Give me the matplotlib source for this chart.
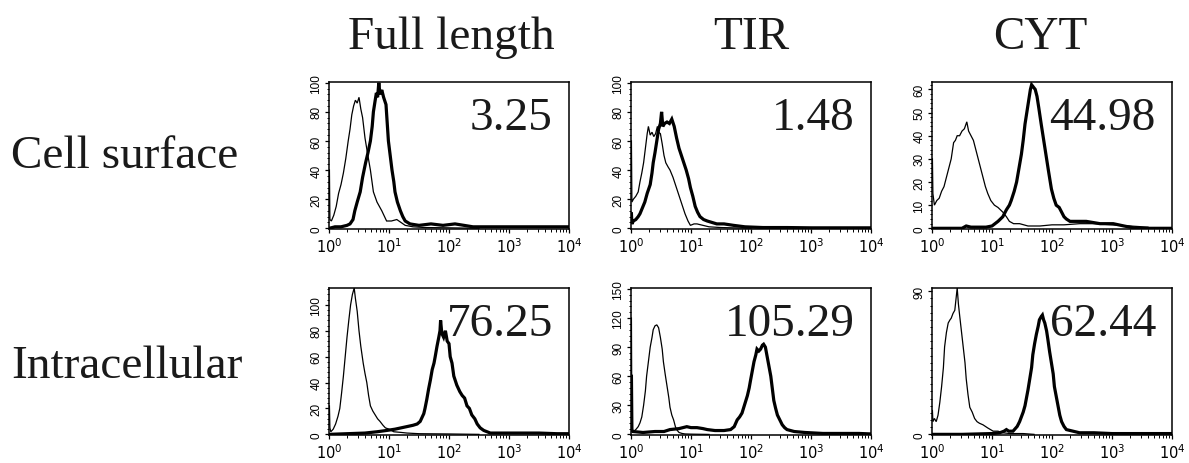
import numpy as np
import matplotlib
matplotlib.use("Agg")
import matplotlib.pyplot as plt
from matplotlib.ticker import FixedLocator, NullFormatter, LogLocator

plt.rcParams['mathtext.fontset'] = 'custom'
plt.rcParams['mathtext.rm'] = 'Liberation Sans'
plt.rcParams['mathtext.it'] = 'Liberation Sans:italic'
plt.rcParams['mathtext.bf'] = 'Liberation Sans:bold'

# ---------------- data ----------------
col_titles = ["Full length", "TIR", "CYT"]
row_labels = ["Cell surface", "Intracellular"]
panel_values = ["3.25", "1.48", "44.98", "76.25", "105.29", "62.44"]
x_tick_exp = [0, 1, 2, 3, 4]

# Full length / cell surface
fl_surf_ctrl_logx = [0.007, 0.015, 0.04, 0.08, 0.12, 0.16, 0.20, 0.24, 0.28, 0.32, 0.35, 0.38, 0.41, 0.44, 0.47, 0.50,
                     0.53, 0.56, 0.60, 0.64, 0.69, 0.74, 0.80, 0.88, 0.96, 1.04, 1.13, 1.20, 1.27, 1.4, 1.6, 2.0, 2.5]
fl_surf_ctrl_y = [40, 6, 5, 9, 15, 24, 30, 38, 48, 60, 68, 78, 84, 88, 86, 90,
                  82, 76, 62, 52, 40, 25, 18, 12, 5, 5, 6, 4, 2, 1, 0.5, 0.3, 0]
fl_surf_stain_logx = [0.007, 0.1, 0.2, 0.3, 0.35, 0.40, 0.43, 0.47, 0.52, 0.56, 0.61, 0.65, 0.69, 0.72, 0.74, 0.77,
                      0.79, 0.81, 0.83, 0.85, 0.88, 0.91, 0.95, 0.99, 1.02, 1.05, 1.08, 1.10, 1.14, 1.19, 1.23,
                      1.27, 1.35, 1.5, 1.7, 1.9, 2.1, 2.25, 2.4, 2.7, 3.0, 3.3, 3.6, 4.0]
fl_surf_stain_y = [0, 1, 1, 2, 3, 6, 12, 18, 25, 35, 45, 52, 60, 70, 80, 88,
                   93, 90, 100, 92, 95, 90, 85, 60, 50, 40, 32, 25, 18, 12, 8,
                   5, 3, 2, 3, 2, 3, 2, 1, 1, 1, 1, 1, 1]

# TIR / cell surface
tir_surf_ctrl_logx = [0.007, 0.015, 0.04, 0.08, 0.12, 0.15, 0.18, 0.21, 0.24, 0.27, 0.29, 0.32, 0.35, 0.38, 0.41, 0.44,
                      0.46, 0.49, 0.52, 0.55, 0.58, 0.62, 0.65, 0.70, 0.74, 0.78, 0.82, 0.86, 0.90, 0.95, 0.99,
                      1.05, 1.10, 1.2, 1.3, 1.5, 2.0]
tir_surf_ctrl_y = [60, 18, 20, 22, 25, 32, 38, 45, 55, 65, 70, 64, 66, 63, 65, 70,
                   66, 65, 58, 50, 45, 42, 40, 35, 30, 25, 20, 15, 10, 5, 2,
                   3, 3, 2, 1, 0.5, 0]
tir_surf_stain_logx = [0.007, 0.015, 0.04, 0.08, 0.12, 0.15, 0.19, 0.23, 0.27, 0.32, 0.35, 0.37, 0.40, 0.43, 0.46, 0.49,
                       0.51, 0.53, 0.56, 0.60, 0.64, 0.68, 0.72, 0.76, 0.80, 0.84, 0.88, 0.92, 0.96, 0.99, 1.03,
                       1.07, 1.11, 1.15, 1.21, 1.27, 1.35, 1.43, 1.55, 1.71, 1.9, 2.2, 2.6, 3.0, 3.5, 4.0]
tir_surf_stain_y = [10, 3, 5, 6, 8, 10, 14, 18, 24, 30, 38, 45, 52, 60, 68, 72,
                    80, 70, 72, 73, 72, 75, 70, 62, 55, 50, 45, 40, 34, 28, 22,
                    15, 11, 8, 6, 5, 4, 3, 3, 2, 1, 0.5, 0.5, 0.3, 0.3, 0.3]

# CYT / cell surface
cyt_surf_ctrl_logx = [0.007, 0.015, 0.04, 0.08, 0.12, 0.16, 0.20, 0.24, 0.28, 0.32, 0.36, 0.39, 0.42, 0.46, 0.50, 0.54,
                      0.58, 0.61, 0.65, 0.69, 0.73, 0.77, 0.81, 0.85, 0.89, 0.93, 0.98, 1.04, 1.10, 1.18, 1.24,
                      1.29, 1.36, 1.46, 1.6, 1.8, 2.0, 2.2, 2.46, 2.7, 3.0, 3.3, 3.6]
cyt_surf_ctrl_y = [30, 15, 10, 12, 13, 16, 18, 22, 26, 30, 37, 38, 40, 40, 42, 43,
                   46, 42, 40, 38, 34, 30, 26, 22, 18, 15, 12, 10, 9, 7, 5,
                   3, 2, 2, 1, 1, 1.5, 1.5, 2, 2, 1.5, 1, 0.5]
cyt_surf_stain_logx = [0.007, 0.5, 0.57, 0.65, 0.9, 1.0, 1.1, 1.18, 1.24, 1.29, 1.32, 1.37, 1.41, 1.45, 1.49, 1.52,
                       1.55, 1.58, 1.61, 1.64, 1.66, 1.69, 1.72, 1.75, 1.78, 1.82, 1.85, 1.88, 1.91, 1.94, 1.99,
                       2.03, 2.07, 2.12, 2.16, 2.2, 2.24, 2.3, 2.35, 2.45, 2.57, 2.8, 3.02, 3.2, 3.4, 4.0]
cyt_surf_stain_y = [0, 0, 1, 0.5, 0.5, 1, 3, 5, 8, 10, 12, 16, 20, 26, 32, 38,
                    45, 50, 55, 60, 62, 61, 60, 57, 52, 45, 40, 35, 30, 25, 17,
                    13, 10, 9, 7, 5, 4, 3, 3, 3, 3, 2, 2, 1, 0, 0]

# Full length / intracellular
fl_intra_ctrl_logx = [0.007, 0.015, 0.03, 0.07, 0.11, 0.15, 0.18, 0.21, 0.24, 0.27, 0.30, 0.33, 0.36, 0.39, 0.42, 0.44,
                      0.47, 0.50, 0.53, 0.57, 0.60, 0.63, 0.66, 0.69, 0.73, 0.77, 0.81, 0.85, 0.90, 0.94, 1.0,
                      1.08, 1.2, 1.3, 1.5, 2.0, 2.5]
fl_intra_ctrl_y = [22, 5, 2, 4, 8, 14, 20, 32, 45, 60, 75, 88, 100, 108, 113, 105,
                   95, 80, 68, 55, 47, 40, 30, 22, 18, 15, 12, 10, 7, 5, 4,
                   2, 1.5, 1, 0.5, 0.3, 0]
fl_intra_stain_logx = [0.007, 0.3, 0.6, 0.8, 0.96, 1.1, 1.2, 1.3, 1.4, 1.47, 1.52, 1.55, 1.58, 1.6, 1.63, 1.66,
                       1.69, 1.72, 1.75, 1.77, 1.80, 1.83, 1.85, 1.86, 1.88, 1.91, 1.94, 1.97, 2.0, 2.02, 2.05,
                       2.08, 2.13, 2.18, 2.22, 2.26, 2.3, 2.34, 2.38, 2.43, 2.47, 2.52, 2.58, 2.69, 2.9, 3.2,
                       3.5, 3.8, 4.0]
fl_intra_stain_y = [0, 0.5, 1, 2, 3, 4, 5, 6, 7, 8, 10, 13, 16, 20, 27, 35,
                    42, 50, 55, 60, 68, 75, 80, 88, 78, 75, 80, 72, 70, 60, 55,
                    45, 38, 33, 30, 28, 22, 20, 15, 12, 8, 5, 3, 1, 1, 1,
                    1, 0.5, 0.5]

# TIR / intracellular
tir_intra_ctrl_logx = [0.007, 0.015, 0.04, 0.08, 0.12, 0.15, 0.18, 0.21, 0.24, 0.26, 0.29, 0.32, 0.35, 0.37, 0.40, 0.43,
                       0.46, 0.49, 0.52, 0.54, 0.57, 0.60, 0.63, 0.65, 0.68, 0.71, 0.74, 0.76, 0.80, 0.85, 0.9,
                       1.0, 1.3]
tir_intra_ctrl_y = [120, 5, 3, 5, 8, 12, 18, 30, 45, 60, 75, 90, 100, 108, 112, 113,
                    110, 100, 88, 75, 62, 50, 38, 28, 20, 15, 8, 5, 2, 1, 0.5,
                    0.3, 0]
tir_intra_stain_logx = [0.007, 0.015, 0.03, 0.2, 0.4, 0.55, 0.65, 0.8, 0.93, 1.0, 1.1, 1.2, 1.27, 1.4, 1.55, 1.66,
                        1.72, 1.77, 1.81, 1.85, 1.89, 1.94, 1.97, 1.99, 2.02, 2.05, 2.08, 2.10, 2.13, 2.16, 2.19,
                        2.21, 2.24, 2.27, 2.30, 2.33, 2.36, 2.38, 2.41, 2.44, 2.48, 2.52, 2.56, 2.6, 2.72, 2.9,
                        3.2, 3.5, 3.8, 4.0]
tir_intra_stain_y = [60, 5, 3, 2, 3, 3, 5, 6, 8, 7, 7, 6, 5, 4, 4, 5,
                     8, 15, 18, 22, 30, 40, 48, 55, 65, 75, 82, 88, 86, 88, 92,
                     93, 90, 80, 70, 60, 45, 35, 27, 20, 15, 10, 7, 5, 3, 2,
                     1, 1, 1, 0.5]

# CYT / intracellular
cyt_intra_ctrl_logx = [0.007, 0.015, 0.04, 0.07, 0.10, 0.13, 0.16, 0.19, 0.21, 0.24, 0.27, 0.30, 0.32, 0.35, 0.38, 0.40,
                       0.42, 0.44, 0.46, 0.49, 0.52, 0.55, 0.57, 0.60, 0.63, 0.67, 0.71, 0.75, 0.79, 0.85, 0.93,
                       1.02, 1.1, 1.18, 1.3, 1.52, 1.7]
cyt_intra_ctrl_y = [15, 8, 10, 8, 12, 20, 30, 42, 55, 64, 70, 72, 73, 76, 78, 85,
                    92, 82, 75, 65, 55, 45, 35, 25, 17, 14, 10, 8, 7, 6, 4,
                    2, 2, 1, 0.5, 0.5, 0]
cyt_intra_stain_logx = [0.007, 0.5, 1.0, 1.13, 1.2, 1.24, 1.28, 1.35, 1.42, 1.46, 1.49, 1.52, 1.55, 1.57, 1.60, 1.63,
                        1.66, 1.68, 1.71, 1.74, 1.77, 1.79, 1.82, 1.84, 1.86, 1.88, 1.91, 1.93, 1.96, 1.99, 2.02,
                        2.04, 2.07, 2.1, 2.13, 2.16, 2.2, 2.24, 2.35, 2.46, 2.7, 3.0, 3.5, 4.0]
cyt_intra_stain_y = [0, 0, 0.5, 1, 2, 3, 2, 2, 5, 8, 11, 14, 18, 22, 28, 35,
                     42, 50, 57, 63, 68, 72, 74, 75, 72, 70, 65, 60, 52, 45, 38,
                     30, 24, 18, 12, 8, 5, 3, 2, 1, 1, 0.5, 0.5, 0.5]

# y-axis ticks per panel
y_major = [[0, 20, 40, 60, 80, 100], [0, 20, 40, 60, 80, 100], [0, 10, 20, 30, 40, 50, 60],
           [0, 20, 40, 60, 80, 100], [0, 30, 60, 90, 120, 150], [0, 90]]
y_minor_step = [4, 4, 2, 4, 6, 4.5]
y_lims = [(-0.5, 100.5), (-0.5, 100.5), (-0.3, 63.2), (-0.5, 113), (-0.6, 151), (-0.4, 92)]

curves = [
    (fl_surf_ctrl_logx, fl_surf_ctrl_y, fl_surf_stain_logx, fl_surf_stain_y),
    (tir_surf_ctrl_logx, tir_surf_ctrl_y, tir_surf_stain_logx, tir_surf_stain_y),
    (cyt_surf_ctrl_logx, cyt_surf_ctrl_y, cyt_surf_stain_logx, cyt_surf_stain_y),
    (fl_intra_ctrl_logx, fl_intra_ctrl_y, fl_intra_stain_logx, fl_intra_stain_y),
    (tir_intra_ctrl_logx, tir_intra_ctrl_y, tir_intra_stain_logx, tir_intra_stain_y),
    (cyt_intra_ctrl_logx, cyt_intra_ctrl_y, cyt_intra_stain_logx, cyt_intra_stain_y),
]

# ---------------- layout ----------------
W, H = 1189, 464
fig = plt.figure(figsize=(W / 100, H / 100), dpi=100)

col_left = [329, 631, 932]
col_w = 240
row_top = [83, 289]
row_h = 147

serif = ['Liberation Serif', 'DejaVu Serif']
sans = ['Liberation Sans', 'DejaVu Sans']

for i in range(6):
    r, c = divmod(i, 3)
    l = col_left[c]
    t = row_top[r]
    ax = fig.add_axes([l / W, 1 - (t + row_h) / H, col_w / W, row_h / H])
    cx, cy, sx, sy = curves[i]
    ax.plot(10 ** np.asarray(cx, float), cy, color='black', lw=0.9, solid_joinstyle='miter')
    ax.plot(10 ** np.asarray(sx, float), sy, color='black', lw=2.3, solid_joinstyle='miter')
    ax.set_xscale('log')
    ax.set_xlim(1, 1e4)
    ax.set_ylim(*y_lims[i])
    ax.xaxis.set_major_locator(FixedLocator([10 ** e for e in x_tick_exp]))
    ax.xaxis.set_minor_locator(LogLocator(base=10, subs=np.arange(2, 10)))
    ax.xaxis.set_minor_formatter(NullFormatter())
    ax.set_xticklabels([r'$\mathregular{10^{%d}}$' % e for e in x_tick_exp], fontsize=10.5)
    ax.set_yticks(y_major[i])
    ax.set_yticklabels([str(v) for v in y_major[i]], rotation=90, va='center', fontsize=8.5, family=sans)
    ymax = y_lims[i][1]
    ax.yaxis.set_minor_locator(FixedLocator(np.arange(0, ymax, y_minor_step[i])))
    ax.tick_params(which='major', direction='out', length=3.2, width=0.9, pad=2)
    ax.tick_params(which='minor', direction='out', length=1.8, width=0.7)
    ax.tick_params(axis='y', which='major', pad=1.5)
    for s in ax.spines.values():
        s.set_linewidth(1.1)
    # value label
    fig.text((l + col_w - 16) / W, 1 - (t + 47) / H, panel_values[i], ha='right', va='baseline',
             fontsize=34, family=serif, color='#1a1a1a')

# column titles
title_x = [451, 751, 1040]
for c in range(3):
    fig.text(title_x[c] / W, 1 - 49 / H, col_titles[c], ha='center', va='baseline',
             fontsize=34, family=serif, color='#1a1a1a')

# row labels
row_base = [168, 378]
for r in range(2):
    fig.text(11 / W, 1 - row_base[r] / H, row_labels[r], ha='left', va='baseline',
             fontsize=34, family=serif, color='#1a1a1a')

fig.savefig('out.png', dpi=100)
